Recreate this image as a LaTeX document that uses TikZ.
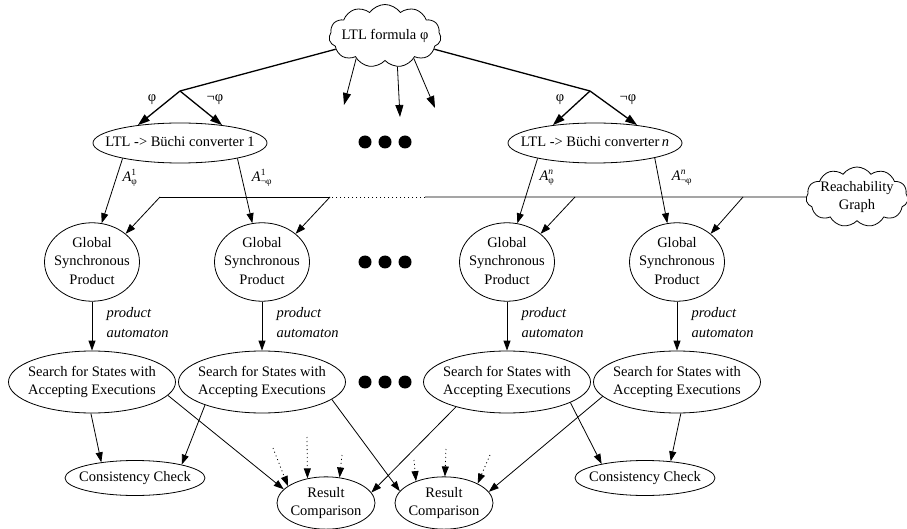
\documentclass[tikz,border=0pt]{standalone}
\usepackage{fontspec}
\setmainfont{Liberation Serif}
\usetikzlibrary{shapes.geometric,shapes.symbols,arrows.meta}
\newcommand\ctext[1]{\makebox[0pt]{\begin{tabular}{@{}c@{}}#1\end{tabular}}}
\newcommand\Aut[2]{$\mbox{\textit{A}}^{\mbox{\fontsize{9.5}{9.5}\selectfont #1}}_{\mbox{\fontsize{9.5}{9.5}\selectfont #2}}$}
\begin{document}
\begin{tikzpicture}[x=1pt,y=-1pt,
  every node/.style={font=\fontsize{14.5}{18.5}\selectfont},
  oval/.style={ellipse,draw,line width=0.8pt,inner sep=0pt},
  conv/.style={oval,minimum width=174pt,minimum height=40pt},
  gsp/.style={oval,minimum width=95pt,minimum height=77pt},
  srch/.style={oval,minimum width=167pt,minimum height=62pt},
  cons/.style={oval,minimum width=140pt,minimum height=35pt},
  res/.style={oval,minimum width=98pt,minimum height=50pt},
  cloudbox/.style={cloud,draw,cloud puffs=11,cloud puff arc=110,cloud ignores aspect,inner sep=0pt,line width=0.8pt},
  arr/.style={-{Triangle[length=10pt,width=7pt]}},
  bigarr/.style={-{Triangle[length=12pt,width=8pt]}},
  ln/.style={line width=0.8pt},
  heavy/.style={line width=1.3pt},
  dots/.style={ln,dash pattern=on 1pt off 3pt},
  bigdot/.style={circle,fill,inner sep=0pt,minimum size=13pt},
  elabel/.style={font=\fontsize{14.5}{20}\selectfont\itshape,align=left,anchor=west},
]
\useasboundingbox (0,0) rectangle (907,529);

% top cloud
\node[cloudbox,minimum width=112pt,minimum height=63pt] (ltl) at (385,36) {\ctext{LTL formula φ}};
\coordinate (b1) at (180,91);
\coordinate (bn) at (590,91);
\coordinate (d1) at (344,105);
\coordinate (d2) at (400,117);
\coordinate (d3) at (435,108);

% converters
\node[conv] (c1) at (180,143) {\ctext{LTL -> Büchi converter 1}};
\node[conv] (cn) at (595,143) {\ctext{LTL -> Büchi converter\,\textit{n}}};

\draw[heavy] (ltl) -- (b1);
\draw[heavy] (ltl) -- (bn);
\draw[heavy,bigarr] (b1) -- (c1.157);
\draw[heavy,bigarr] (b1) -- (c1.23);
\draw[heavy,bigarr] (bn) -- (cn.157);
\draw[heavy,bigarr] (bn) -- (cn.23);
\draw[ln,bigarr] (ltl.218) -- (d1);
\draw[ln,bigarr] (ltl.292) -- (d2);
\draw[ln,bigarr] (ltl.322) -- (d3);

\node (p1) at (152,100) {φ};
\node (np1) at (215,100) {¬φ};
\node (p2) at (560,100) {φ};
\node (np2) at (628,100) {¬φ};

% dots
\foreach \y/\r in {142/a,262/b,382/c}{
  \node[bigdot] (dot\r1) at (365,\y) {};
  \node[bigdot] (dot\r2) at (385,\y) {};
  \node[bigdot] (dot\r3) at (405,\y) {};
}

% global synchronous products
\node[gsp] (g1) at (92,262) {\ctext{Global\\Synchronous\\Product}};
\node[gsp] (g2) at (262,262) {\ctext{Global\\Synchronous\\Product}};
\node[gsp] (g3) at (507,262) {\ctext{Global\\Synchronous\\Product}};
\node[gsp] (g4) at (677,262) {\ctext{Global\\Synchronous\\Product}};

\draw[ln,arr] (c1.195) -- (g1.76);
\draw[ln,arr] (c1.345) -- (g2.104);
\draw[ln,arr] (cn.195) -- (g3.75);
\draw[ln,arr] (cn.346) -- (g4.104);

\node (a1) at (130,178) {\Aut{1}{φ}};
\node (a2) at (262,178) {\Aut{1}{¬φ}};
\node (a3) at (547,178) {\Aut{\textit{n}}{φ}};
\node (a4) at (682,178) {\Aut{\textit{n}}{¬φ}};

% reachability graph
\node[cloudbox,minimum width=102pt,minimum height=60pt] (rg) at (857,197) {\ctext{Reachability\\Graph}};
\coordinate (h1) at (160,197);
\coordinate (h2) at (330,197);
\coordinate (h3) at (425,197);
\coordinate (h4) at (575,197);
\coordinate (h5) at (743,197);
\draw[ln] (rg) -- (h3);
\draw[dots] (h3) -- (h2);
\draw[ln] (h2) -- (h1);
\draw[ln,arr] (h1) -- (g1.40);
\draw[ln,arr] (h2) -- (g2.40);
\draw[ln,arr] (h4) -- (g3.40);
\draw[ln,arr] (h5) -- (g4.40);

% search
\node[srch] (s1) at (92,382) {\ctext{Search for States with\\Accepting Executions}};
\node[srch] (s2) at (262,382) {\ctext{Search for States with\\Accepting Executions}};
\node[srch] (s3) at (507,382) {\ctext{Search for States with\\Accepting Executions}};
\node[srch] (s4) at (677,382) {\ctext{Search for States with\\Accepting Executions}};

\draw[ln,arr] (g1) -- (s1);
\draw[ln,arr] (g2) -- (s2);
\draw[ln,arr] (g3) -- (s3);
\draw[ln,arr] (g4) -- (s4);

\node[elabel] (pa1) at (103,323) {product\\automaton};
\node[elabel] (pa2) at (273,323) {product\\automaton};
\node[elabel] (pa3) at (518,323) {product\\automaton};
\node[elabel] (pa4) at (688,323) {product\\automaton};

% bottom
\node[cons] (k1) at (135,478) {\ctext{Consistency Check}};
\node[cons] (k2) at (645,478) {\ctext{Consistency Check}};
\node[res] (r1) at (326,503) {\ctext{Result\\Comparison}};
\node[res] (r2) at (444,503) {\ctext{Result\\Comparison}};

\draw[ln,arr] (s1.268) -- (k1.155);
\draw[ln,arr] (s2.202) -- (k1.16);
\draw[ln,arr] (s1.350) -- (r1.162);
\draw[ln,arr] (s2.346) -- (r2.165);
\draw[ln,arr] (s3.206) -- (r1.13);
\draw[ln,arr] (s3.342) -- (k2.162);
\draw[ln,arr] (s4.277) -- (k2.33);
\draw[ln,arr] (s4.191) -- (r2.14);

\coordinate (e1) at (273,448);
\coordinate (e2) at (307,437);
\coordinate (e3) at (342,455);
\coordinate (e4) at (414,460);
\coordinate (e5) at (446,449);
\coordinate (e6) at (490,455);
\draw[dots,arr] (e1) -- (r1.156);
\draw[dots,arr] (e2) -- (r1.127);
\draw[dots,arr] (e3) -- (r1.62);
\draw[dots,arr] (e4) -- (r2.142);
\draw[dots,arr] (e5) -- (r2.88);
\draw[dots,arr] (e6) -- (r2.30);
\end{tikzpicture}
\end{document}
